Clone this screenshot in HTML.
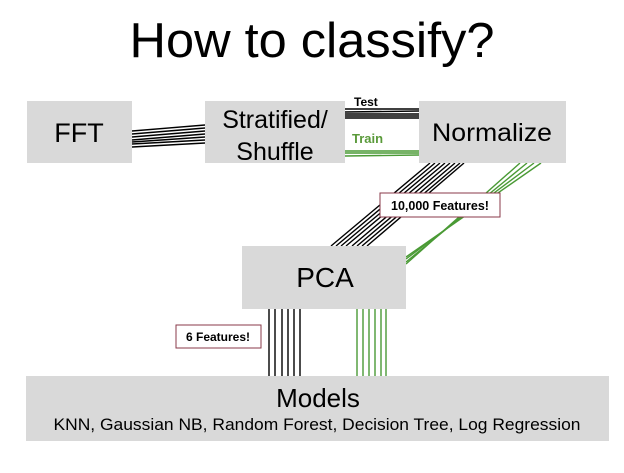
<!DOCTYPE html><html><head><style>
body{margin:0;width:624px;height:468px;background:#fff;font-family:"Liberation Sans",sans-serif;overflow:hidden}
</style></head><body>
<svg width="624" height="468" xmlns="http://www.w3.org/2000/svg" font-family="Liberation Sans, sans-serif">
<text x="312" y="57" text-anchor="middle" font-size="49" textLength="365" lengthAdjust="spacingAndGlyphs">How to classify?</text>
<g stroke="#000" stroke-width="1.4">
<line x1="132" y1="131" x2="205" y2="125"/><line x1="132" y1="134" x2="205" y2="128"/><line x1="132" y1="137" x2="205" y2="131"/><line x1="132" y1="140" x2="205" y2="134"/><line x1="132" y1="142" x2="205" y2="137"/><line x1="132" y1="144" x2="205" y2="140"/><line x1="132" y1="147" x2="205" y2="143"/>
<line x1="345" y1="109" x2="419" y2="109"/><line x1="345" y1="112" x2="419" y2="111"/><line x1="345" y1="114" x2="419" y2="114"/><line x1="345" y1="116" x2="419" y2="116"/><line x1="345" y1="118" x2="419" y2="118"/>
<line x1="430" y1="163" x2="331" y2="246"/><line x1="435" y1="163" x2="336" y2="246"/><line x1="440" y1="163" x2="341" y2="246"/><line x1="445" y1="163" x2="346" y2="246"/><line x1="450" y1="163" x2="352" y2="246"/><line x1="455" y1="163" x2="357" y2="246"/><line x1="460" y1="163" x2="362" y2="246"/><line x1="464" y1="163" x2="367" y2="246"/>
<line x1="269" y1="309" x2="269" y2="376"/><line x1="275" y1="309" x2="275" y2="376"/><line x1="282" y1="309" x2="282" y2="376"/><line x1="288" y1="309" x2="288" y2="376"/><line x1="294" y1="309" x2="294" y2="376"/><line x1="300" y1="309" x2="300" y2="376"/>
</g>
<g stroke="#4a9a35" stroke-width="1.4">
<line x1="345" y1="151" x2="419" y2="151"/><line x1="345" y1="153" x2="419" y2="153"/><line x1="345" y1="156" x2="419" y2="155"/>
<line x1="520" y1="163" x2="406" y2="264"/><line x1="527" y1="163" x2="406" y2="262"/><line x1="534" y1="163" x2="406" y2="259"/><line x1="541" y1="163" x2="406" y2="257"/>
<line x1="357" y1="309" x2="357" y2="376"/><line x1="363" y1="309" x2="363" y2="376"/><line x1="369" y1="309" x2="369" y2="376"/><line x1="375" y1="309" x2="375" y2="376"/><line x1="381" y1="309" x2="381" y2="376"/><line x1="386" y1="309" x2="386" y2="376"/>
</g>
<g fill="#d9d9d9">
<rect x="27" y="101" width="105" height="62"/><rect x="205" y="101" width="140" height="62"/><rect x="419" y="101" width="147" height="62"/><rect x="242" y="246" width="164" height="63"/><rect x="26" y="376" width="583" height="65"/>
</g>
<g font-size="25" text-anchor="middle">
<text x="79" y="142" font-size="27">FFT</text>
<text x="275" y="128">Stratified/</text><text x="275" y="160">Shuffle</text>
<text x="492" y="141" textLength="120" lengthAdjust="spacingAndGlyphs">Normalize</text>
<text x="325" y="287" font-size="28">PCA</text>
<text x="318" y="407" font-size="26">Models</text>
</g>
<text x="317" y="430" text-anchor="middle" font-size="16.5" textLength="527" lengthAdjust="spacingAndGlyphs">KNN, Gaussian NB, Random Forest, Decision Tree, Log Regression</text>
<text x="354" y="106" font-size="12" font-weight="bold">Test</text>
<text x="352" y="143" font-size="13" font-weight="bold" fill="#5a9a3a">Train</text>
<rect x="380" y="193" width="120" height="24" fill="#fff" stroke="#8a3a4a" stroke-width="1"/>
<text x="440" y="210" text-anchor="middle" font-size="12.5" font-weight="bold">10,000 Features!</text>
<rect x="176" y="325" width="85" height="23" fill="#fff" stroke="#8a3a4a" stroke-width="1"/>
<text x="218" y="341" text-anchor="middle" font-size="12" font-weight="bold">6 Features!</text>
</svg>
</body></html>
